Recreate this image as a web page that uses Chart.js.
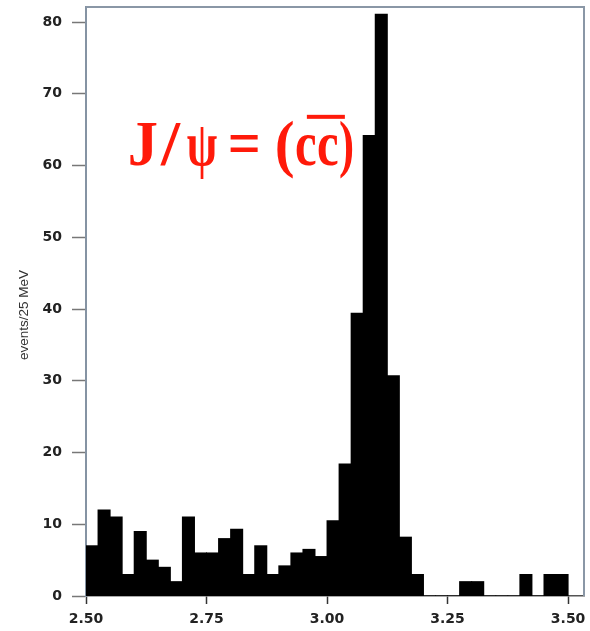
<!DOCTYPE html>
<html>
<head>
<meta charset="utf-8">
<script src="https://cdn.jsdelivr.net/npm/chart.js@4"></script>
<style>
  html, body { margin: 0; padding: 0; background: #fff; }
  #wrap { width: 590px; height: 631px; }
</style>
</head>
<body>
<div id="wrap"><canvas id="chart"></canvas></div>
<script>
"use strict";

// histogram bins, lower edges in GeV (25 MeV wide)
const binLow = [
  2.500, 2.525, 2.550, 2.575, 2.600, 2.625, 2.650, 2.675, 2.700, 2.725,
  2.750, 2.775, 2.800, 2.825, 2.850, 2.875, 2.900, 2.925, 2.950, 2.975,
  3.000, 3.025, 3.050, 3.075, 3.100, 3.125, 3.150, 3.175, 3.200, 3.225,
  3.250, 3.275, 3.300, 3.325, 3.350, 3.375, 3.400, 3.425, 3.450, 3.475,
];
const binWidth = 0.025;

// events per bin
const counts = [
  7, 12, 11, 3, 9, 5, 4, 2, 11, 6,
  6, 8, 9.3, 3, 7, 3, 4.2, 6, 6.5, 5.5,
  10.5, 18.4, 39.4, 64.2, 81.1, 30.7, 8.2, 3, 0, 0,
  0, 2, 2, 0, 0, 0, 3, 0, 3, 3,
];

const xTicks = [2.50, 2.75, 3.00, 3.25, 3.50];
const yTicks = [0, 10, 20, 30, 40, 50, 60, 70, 80];
const yTitle = "events/25 MeV";

const tickFont = { family: "DejaVu Sans", size: 14, weight: "bold" };

// top and right sides of the frame, plus the rotated y title
const framePlugin = {
  id: "frame",
  afterDraw(chart) {
    const { ctx, chartArea: a } = chart;
    ctx.save();
    ctx.strokeStyle = "#8a97a6";
    ctx.lineWidth = 2;
    ctx.beginPath();
    ctx.moveTo(a.left, a.top);
    ctx.lineTo(a.right, a.top);
    ctx.lineTo(a.right, a.bottom);
    ctx.stroke();

    ctx.translate(24, 315);
    ctx.rotate(-Math.PI / 2);
    ctx.font = "13.5px 'Liberation Sans'";
    ctx.fillStyle = "#333";
    ctx.textAlign = "center";
    ctx.textBaseline = "middle";
    ctx.fillText(yTitle, 0, 0);
    ctx.restore();
  },
};

// red "J/psi = (c cbar)" label; each glyph fitted into its own slot
const labelPlugin = {
  id: "jpsiLabel",
  afterDraw(chart) {
    const { ctx } = chart;
    const x0 = chart.scales.x.getPixelForValue(2.591);
    const y0 = chart.scales.y.getPixelForValue(60.1);
    const pieces = [
      ["J", 0, 27], ["/", 30, 52], ["\u03C8", 57, 87], ["=", 100, 128],
      ["(", 147, 163], ["c", 166, 186], ["c", 188, 208], [")", 210, 223],
    ];
    ctx.save();
    ctx.font = "bold 56px 'Liberation Serif'";
    ctx.fillStyle = "#ff1a0a";
    ctx.textBaseline = "alphabetic";
    for (const [t, l, r] of pieces) {
      const m = ctx.measureText(t);
      const ink = m.actualBoundingBoxLeft + m.actualBoundingBoxRight;
      const sx = (r - l) / ink;
      ctx.save();
      ctx.translate(x0 + l, y0);
      ctx.scale(sx, 1.12);
      ctx.fillText(t, m.actualBoundingBoxLeft, 0);
      ctx.restore();
    }
    // bar over the anti-quark
    ctx.fillRect(x0 + 177, y0 - 50, 38, 4);
    ctx.restore();
  },
};

new Chart(document.getElementById("chart"), {
  type: "bar",
  data: {
    datasets: [
      {
        label: "events",
        data: binLow.map((lo, i) => ({ x: lo + binWidth / 2, y: counts[i] })),
        backgroundColor: "#000",
        borderWidth: 0,
        barPercentage: 1,
        categoryPercentage: 1,
        inflateAmount: 0.5,
      },
    ],
  },
  options: {
    responsive: true,
    maintainAspectRatio: false,
    animation: false,
    devicePixelRatio: 1,
    layout: { padding: { left: 0, right: 6, top: 7, bottom: 0 } },
    plugins: { legend: { display: false }, tooltip: { enabled: false } },
    scales: {
      x: {
        type: "linear",
        min: 2.5,
        max: 3.533,
        offset: false,
        afterBuildTicks: (s) => { s.ticks = xTicks.map((v) => ({ value: v })); },
        afterFit: (s) => { s.height = 35; s.paddingLeft = 0; s.paddingRight = 0; },
        ticks: {
          autoSkip: false,
          maxRotation: 0,
          padding: 7,
          color: "#222",
          font: tickFont,
          callback: (v) => Number(v).toFixed(2),
        },
        grid: { offset: false, drawOnChartArea: false, tickLength: 8, color: "#333", tickWidth: 1.5 },
        border: { color: "#555", width: 1.5 },
      },
      y: {
        min: 0,
        max: 82.1,
        afterBuildTicks: (s) => { s.ticks = yTicks.map((v) => ({ value: v })); },
        afterFit: (s) => { s.width = 86; s.paddingTop = 0; s.paddingBottom = 0; },
        ticks: { padding: 10, color: "#222", font: tickFont },
        grid: { drawOnChartArea: false, tickLength: 14, color: "#777", tickWidth: 1.5 },
        border: { color: "#8593a3", width: 2 },
      },
    },
  },
  plugins: [framePlugin, labelPlugin],
});
</script>
</body>
</html>
